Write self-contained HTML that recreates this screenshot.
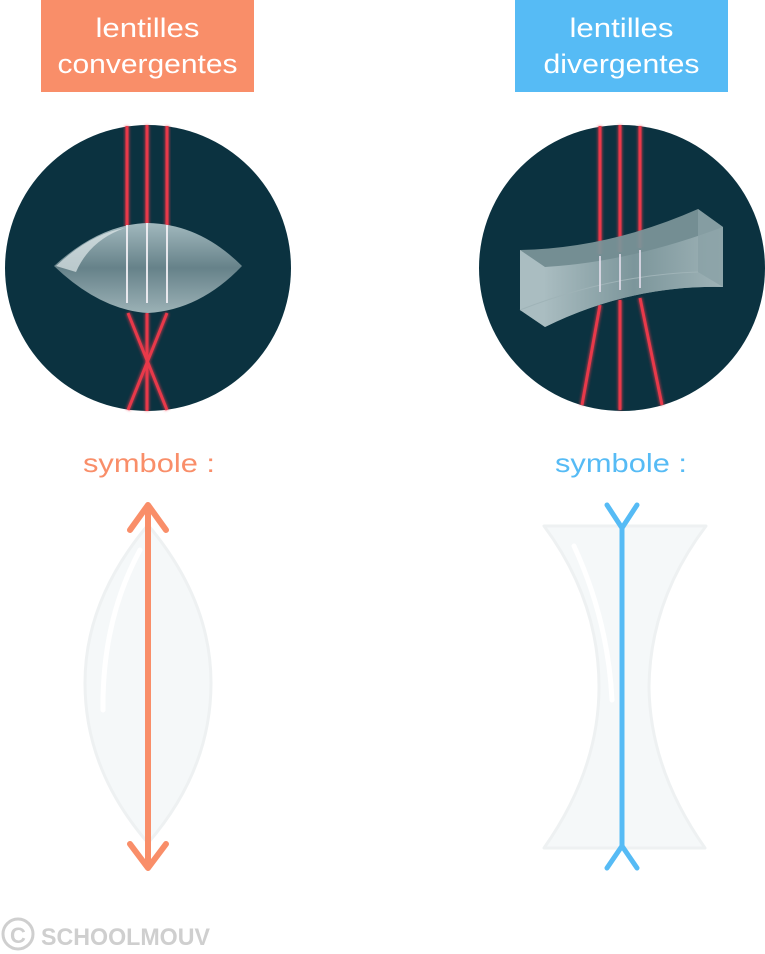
<!DOCTYPE html>
<html><head><meta charset="utf-8"><style>
html,body{margin:0;padding:0;background:#fff;}
svg{display:block;}
text{font-family:"Liberation Sans","DejaVu Sans",sans-serif;}
</style></head><body>
<svg width="765" height="954" viewBox="0 0 765 954" xmlns="http://www.w3.org/2000/svg">
<defs>
<linearGradient id="lg" x1="0" y1="0" x2="0" y2="1">
<stop offset="0" stop-color="#a9bfc4"/><stop offset="0.5" stop-color="#6b868d"/><stop offset="1" stop-color="#a3b8bc"/>
</linearGradient>
<linearGradient id="bg" x1="0" y1="0" x2="1" y2="0">
<stop offset="0" stop-color="#a9bcc0"/><stop offset="0.5" stop-color="#7c969b"/><stop offset="1" stop-color="#9fb3b7"/>
</linearGradient>
<filter id="gl"><feGaussianBlur stdDeviation="1.2"/></filter>
</defs>

<rect x="41" y="0" width="213" height="92" fill="#f98e69"/>
<text x="147.5" y="37" font-size="27" fill="#fff" text-anchor="middle" textLength="104" lengthAdjust="spacingAndGlyphs">lentilles</text>
<text x="147.5" y="73" font-size="27" fill="#fff" text-anchor="middle" textLength="180" lengthAdjust="spacingAndGlyphs">convergentes</text>
<rect x="515" y="0" width="213" height="92" fill="#56bbf5"/>
<text x="621.5" y="37" font-size="27" fill="#fff" text-anchor="middle" textLength="104" lengthAdjust="spacingAndGlyphs">lentilles</text>
<text x="621.5" y="73" font-size="27" fill="#fff" text-anchor="middle" textLength="156" lengthAdjust="spacingAndGlyphs">divergentes</text>

<!-- left circle -->
<circle cx="148" cy="268" r="143" fill="#0b3240"/>
<g stroke="#e8394a" stroke-width="3">
<g filter="url(#gl)" stroke-width="5" opacity="0.6">
<line x1="127" y1="126" x2="127" y2="228"/><line x1="147" y1="125" x2="147" y2="228"/><line x1="167" y1="126" x2="167" y2="228"/>
<line x1="128" y1="313" x2="167" y2="410"/><line x1="167" y1="313" x2="128" y2="410"/><line x1="147" y1="313" x2="147" y2="411"/>
</g>
<line x1="127" y1="126" x2="127" y2="228"/><line x1="147" y1="125" x2="147" y2="228"/><line x1="167" y1="126" x2="167" y2="228"/>
<line x1="128" y1="313" x2="167" y2="410"/><line x1="167" y1="313" x2="128" y2="410"/><line x1="147" y1="313" x2="147" y2="411"/>
</g>
<path d="M54 266 Q100 224 148 223 Q200 224 242 266 Q200 310 148 313 Q100 310 54 266 Z" fill="url(#lg)" opacity="0.95"/>
<path d="M56 266 Q90 234 125 228 Q90 240 76 272 Z" fill="#dfe8ea" opacity="0.7"/>
<g stroke="#f3f0f5" stroke-width="1.8"><line x1="127" y1="225" x2="127" y2="303"/><line x1="147" y1="223" x2="147" y2="303"/><line x1="167" y1="225" x2="167" y2="303"/></g>

<!-- right circle -->
<circle cx="622" cy="268" r="143" fill="#0b3240"/>
<g stroke="#e8394a" stroke-width="3">
<g filter="url(#gl)" stroke-width="5" opacity="0.6">
<line x1="600" y1="126" x2="600" y2="254"/><line x1="620" y1="125" x2="620" y2="252"/><line x1="640" y1="126" x2="640" y2="248"/>
<line x1="600" y1="305" x2="582" y2="405"/><line x1="620" y1="300" x2="620" y2="410"/><line x1="640" y1="298" x2="662" y2="405"/>
</g>
<line x1="600" y1="126" x2="600" y2="254"/><line x1="620" y1="125" x2="620" y2="252"/><line x1="640" y1="126" x2="640" y2="248"/>
<line x1="600" y1="305" x2="582" y2="405"/><line x1="620" y1="300" x2="620" y2="410"/><line x1="640" y1="298" x2="662" y2="405"/>
</g>
<path d="M520 250 Q610 248 698 209 L723 227 L723 287 Q630 285 545 327 L520 310 Z" fill="#7a9398" opacity="0.95"/>
<path d="M545 267 Q630 262 723 227 L723 287 Q630 285 545 327 Z" fill="url(#bg)"/>
<path d="M520 250 L545 267 L545 327 L520 310 Z" fill="#aabdc1"/>
<path d="M698 209 L723 227 L723 287 L698 272 Z" fill="#8aa1a6" opacity="0.8"/>
<path d="M520 310 Q610 275 698 272" fill="none" stroke="#9fb3b7" stroke-width="1"/>
<g stroke="#e6e0ee" stroke-width="1.6"><line x1="600" y1="256" x2="600" y2="292"/><line x1="620" y1="254" x2="620" y2="290"/><line x1="640" y1="250" x2="640" y2="288"/></g>

<text x="149" y="472" font-size="26" fill="#f98e69" text-anchor="middle" textLength="132" lengthAdjust="spacingAndGlyphs">symbole :</text>
<text x="621" y="472" font-size="26" fill="#56bbf5" text-anchor="middle" textLength="132" lengthAdjust="spacingAndGlyphs">symbole :</text>

<path d="M148 525 Q85 600 85 683 Q85 770 148 843 Q211 770 211 683 Q211 600 148 525 Z" fill="#f5f8f9" stroke="#eef1f2" stroke-width="3"/>
<path d="M140 550 Q102 620 103 710" fill="none" stroke="#fff" stroke-width="5" stroke-linecap="round"/>
<g stroke="#f98e69" stroke-width="6" stroke-linecap="round" stroke-linejoin="round" fill="none">
<line x1="148" y1="508" x2="148" y2="866"/>
<polyline points="130,530 148,505 166,530"/>
<polyline points="130,844 148,868 166,844"/>
</g>

<path d="M544 526 L706 526 Q650 600 649 687 Q650 770 705 848 L544 848 Q599 770 599 687 Q599 600 544 526 Z" fill="#f5f8f9" stroke="#eef1f2" stroke-width="3" stroke-linejoin="round"/>
<path d="M574 546 Q608 620 612 700" fill="none" stroke="#fff" stroke-width="5" stroke-linecap="round"/>
<g stroke="#56bbf5" stroke-width="5" stroke-linecap="round" stroke-linejoin="round" fill="none">
<line x1="622" y1="527" x2="622" y2="848"/>
<polyline points="607,505 622,528 637,505"/>
<polyline points="607,868 622,846 637,868"/>
</g>

<circle cx="18" cy="934" r="15" fill="none" stroke="#cfcfcf" stroke-width="3"/>
<text x="18" y="943" font-size="22" font-weight="bold" fill="#cfcfcf" text-anchor="middle">C</text>
<text x="41" y="945" font-size="24" font-weight="bold" fill="#cfcfcf" textLength="169" lengthAdjust="spacingAndGlyphs">SCHOOLMOUV</text>
</svg>
</body></html>
